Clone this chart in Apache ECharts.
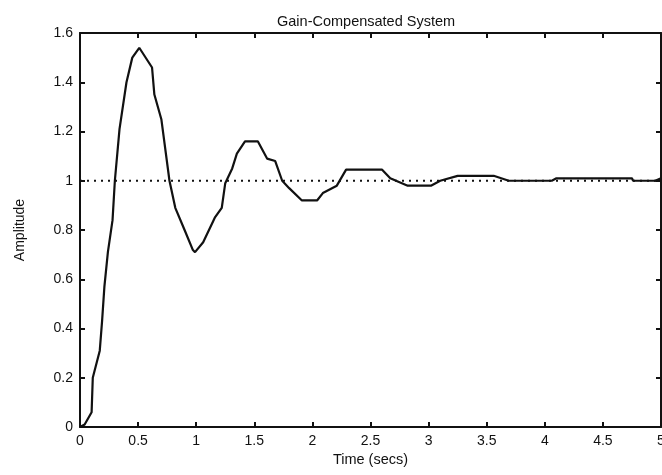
<!DOCTYPE html>
<html>
<head>
<meta charset="utf-8">
<script src="https://cdn.jsdelivr.net/npm/echarts@6/dist/echarts.min.js"></script>
<style>
  html, body { margin: 0; padding: 0; background: #fff; }
  #main { width: 662px; height: 475px; }
</style>
</head>
<body>
<div id="main"></div>
<script>
// step response
const timeSecs = [0, 0.04, 0.1, 0.11, 0.17, 0.19, 0.21, 0.24, 0.28, 0.3, 0.34, 0.4, 0.45, 0.51,
  0.62, 0.64, 0.7, 0.77, 0.82, 0.9, 0.97, 0.99, 1.06, 1.16, 1.22, 1.25, 1.31, 1.35, 1.42,
  1.53, 1.61, 1.68, 1.74, 1.8, 1.91, 2.04, 2.09, 2.21, 2.29, 2.6, 2.67, 2.82, 3.02, 3.1,
  3.25, 3.56, 3.69, 4.06, 4.1, 4.75, 4.76, 4.95, 5];
const amplitude = [0, 0.01, 0.06, 0.2, 0.31, 0.43, 0.57, 0.71, 0.84, 1.0, 1.21, 1.4, 1.5, 1.54,
  1.46, 1.35, 1.25, 1.0, 0.89, 0.8, 0.72, 0.71, 0.75, 0.85, 0.89, 0.99, 1.05, 1.11, 1.16,
  1.16, 1.09, 1.08, 1.0, 0.97, 0.92, 0.92, 0.95, 0.98, 1.045, 1.045, 1.01, 0.98, 0.98, 1.0,
  1.02, 1.02, 1.0, 1.0, 1.01, 1.01, 1.0, 1.0, 1.01];
const refTime = [0, 5];
const refLevel = [1, 1];

const stepData = timeSecs.map((t, i) => [t, amplitude[i]]);
const refData = refTime.map((t, i) => [t, refLevel[i]]);

const font = 'Liberation Sans, Arial, Helvetica, sans-serif';
const axisLine = { show: true, onZero: false, lineStyle: { color: '#111', width: 2 } };
const tick = { show: true, inside: true, length: 5, lineStyle: { color: '#111', width: 2 } };

const chart = echarts.init(document.getElementById('main'));
chart.setOption({
  animation: false,
  backgroundColor: '#fff',
  title: {
    text: 'Gain-Compensated System',
    left: 272,
    top: 9,
    textStyle: { fontFamily: font, fontSize: 14.5, fontWeight: 'normal', color: '#111' },
  },
  grid: { left: 80, right: 1, top: 33, bottom: 48, outerBoundsMode: 'none' },
  xAxis: [
    {
      type: 'value',
      min: 0,
      max: 5,
      interval: 0.5,
      name: 'Time (secs)',
      nameLocation: 'middle',
      nameGap: 17,
      nameTextStyle: { fontFamily: font, fontSize: 14.5, color: '#111' },
      axisLine,
      axisTick: tick,
      splitLine: { show: false },
      axisLabel: { fontFamily: font, fontSize: 14, color: '#111', margin: 7 },
    },
    {
      type: 'value',
      position: 'top',
      min: 0,
      max: 5,
      interval: 0.5,
      axisLine,
      axisTick: tick,
      splitLine: { show: false },
      axisLabel: { show: false },
    },
  ],
  yAxis: [
    {
      type: 'value',
      min: 0,
      max: 1.6,
      interval: 0.2,
      name: 'Amplitude',
      nameLocation: 'middle',
      nameGap: 53,
      nameTextStyle: { fontFamily: font, fontSize: 14, color: '#111' },
      axisLine,
      axisTick: tick,
      splitLine: { show: false },
      axisLabel: { fontFamily: font, fontSize: 14, color: '#111', margin: 7 },
    },
    {
      type: 'value',
      position: 'right',
      min: 0,
      max: 1.6,
      interval: 0.2,
      axisLine,
      axisTick: tick,
      splitLine: { show: false },
      axisLabel: { show: false },
    },
  ],
  series: [
    {
      type: 'line',
      data: refData,
      symbol: 'none',
      lineStyle: { color: '#111', width: 2, type: [2, 5] },
    },
    {
      type: 'line',
      data: stepData,
      symbol: 'none',
      lineStyle: { color: '#111', width: 2.2 },
    },
  ],
});
</script>
</body>
</html>
